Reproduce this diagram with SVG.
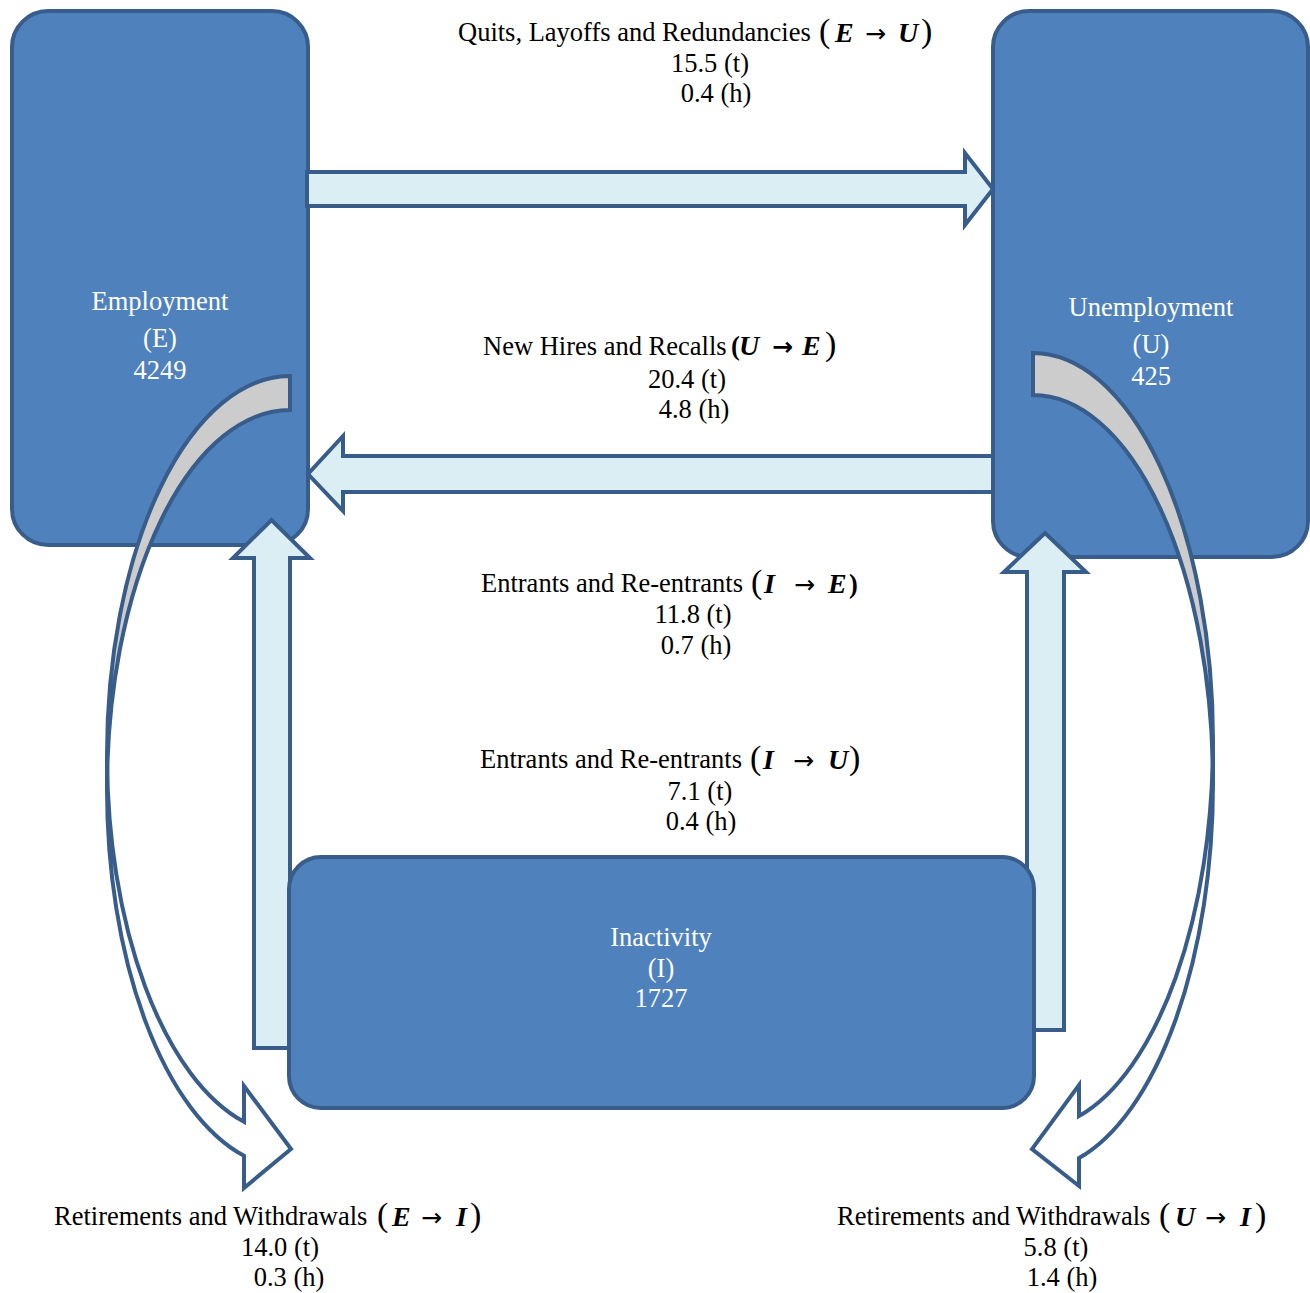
<svg xmlns="http://www.w3.org/2000/svg" width="1310" height="1293" viewBox="0 0 1310 1293">
<style>
.box{fill:#4F81BD;stroke:#385D8A;stroke-width:4}
.arr{fill:#DBEEF4;stroke:#385D8A;stroke-width:4;stroke-linejoin:miter}
.back{fill:#CCCCCC;stroke:#385D8A;stroke-width:4;stroke-linejoin:miter}
.front{fill:#FFFFFF;stroke:#385D8A;stroke-width:4;stroke-linejoin:miter}
text{font-family:"Liberation Serif","Times New Roman",serif;font-size:26.5px;fill:#000}
.bl{fill:#FFFFFF;text-anchor:middle}
.c{text-anchor:middle}
.m{font-weight:bold;font-style:italic;font-size:28px}
.p{font-size:34px}
.ar{font-family:"DejaVu Sans",sans-serif;font-size:25px}
</style>
<rect width="1310" height="1293" fill="#FFFFFF"/>
<g id="node-employment">
<rect class="box" x="12" y="11" width="296" height="534" rx="36"/>
<text class="bl" x="160" y="310">Employment</text>
<text class="bl" x="160" y="347">(E)</text>
<text class="bl" x="160" y="379">4249</text>
</g>
<g id="node-unemployment">
<rect class="box" x="993" y="11" width="315" height="546" rx="36"/>
<text class="bl" x="1151" y="316">Unemployment</text>
<text class="bl" x="1151" y="353">(U)</text>
<text class="bl" x="1151" y="385">425</text>
</g>
<g id="connectors">
<polygon id="arrow-e-u" class="arr" points="307,172 965,172 965,153 993,189 965,225 965,206 307,206"/>
<polygon id="arrow-u-e" class="arr" points="993,456 343,456 343,436 308,474 343,511 343,492 993,492"/>
<polygon id="arrow-i-e" class="arr" points="254,1048 254,558 233,558 271.5,520 310,558 290,558 290,1048"/>
<polygon id="arrow-i-u" class="arr" points="1027,1030 1027,572 1004,572 1045,533 1086,572 1064,572 1064,1030"/>
<g id="arrow-e-i">
<path class="back" d="M290 376 A183 379 0 0 0 107 755 L107 789 A183 379 0 0 1 290 410 Z"/>
<path class="front" d="M107 755 A183 379 0 0 0 244 1121.8 L244 1086 L291 1149 L244 1188 L244 1155.8 A183 379 0 0 1 107 789 Z"/>
</g>
<g id="arrow-u-i">
<path class="back" d="M1033 353 A180 388 0 0 1 1213 741 L1213 783 A180 388 0 0 0 1033 395 Z"/>
<path class="front" d="M1213 741 A180 388 0 0 1 1079 1116.1 L1079 1085 L1032 1149 L1079 1186 L1079 1158.1 A180 388 0 0 0 1213 783 Z"/>
</g>
</g>
<g id="node-inactivity">
<rect class="box" x="289" y="857" width="745" height="251" rx="32"/>
<text class="bl" x="661" y="946">Inactivity</text>
<text class="bl" x="661" y="977">(I)</text>
<text class="bl" x="661" y="1007">1727</text>
</g>
<g id="labels">
<text x="458" y="41">Quits, Layoffs and Redundancies</text>
<text y="42"><tspan class="p" x="819">(</tspan><tspan class="m" x="835">E</tspan><tspan class="ar" x="865">→</tspan><tspan class="m" x="898">U</tspan><tspan class="p" x="921">)</tspan></text>
<text class="c" x="710" y="72">15.5 (t)</text>
<text class="c" x="716" y="102">0.4 (h)</text>

<text x="483" y="355">New Hires and Recalls</text>
<text y="355"><tspan x="731" font-weight="bold">(</tspan><tspan class="m" x="739">U</tspan><tspan class="ar" x="772" font-weight="bold">→</tspan><tspan class="m" x="802">E</tspan><tspan class="p" x="825">)</tspan></text>
<text class="c" x="687" y="388">20.4 (t)</text>
<text class="c" x="694" y="418">4.8 (h)</text>

<text x="481" y="592">Entrants and Re-entrants</text>
<text y="593"><tspan class="p" x="751">(</tspan><tspan class="m" x="764">I</tspan><tspan class="ar" x="794">→</tspan><tspan class="m" x="828">E</tspan><tspan x="849" font-weight="bold">)</tspan></text>
<text class="c" x="693" y="623">11.8 (t)</text>
<text class="c" x="696" y="654">0.7 (h)</text>

<text x="480" y="768">Entrants and Re-entrants</text>
<text y="769"><tspan class="p" x="750">(</tspan><tspan class="m" x="763">I</tspan><tspan class="ar" x="793">→</tspan><tspan class="m" x="828">U</tspan><tspan class="p" x="849">)</tspan></text>
<text class="c" x="700" y="800">7.1 (t)</text>
<text class="c" x="701" y="830">0.4 (h)</text>

<text x="54" y="1225">Retirements and Withdrawals</text>
<text y="1226"><tspan class="p" x="377">(</tspan><tspan class="m" x="392">E</tspan><tspan class="ar" x="421">→</tspan><tspan class="m" x="456">I</tspan><tspan class="p" x="470">)</tspan></text>
<text class="c" x="280" y="1256">14.0 (t)</text>
<text class="c" x="289" y="1286">0.3 (h)</text>

<text x="837" y="1225">Retirements and Withdrawals</text>
<text y="1226"><tspan class="p" x="1159">(</tspan><tspan class="m" x="1175">U</tspan><tspan class="ar" x="1205">→</tspan><tspan class="m" x="1240">I</tspan><tspan class="p" x="1255">)</tspan></text>
<text class="c" x="1056" y="1256">5.8 (t)</text>
<text class="c" x="1062" y="1286">1.4 (h)</text>
</g>
</svg>
